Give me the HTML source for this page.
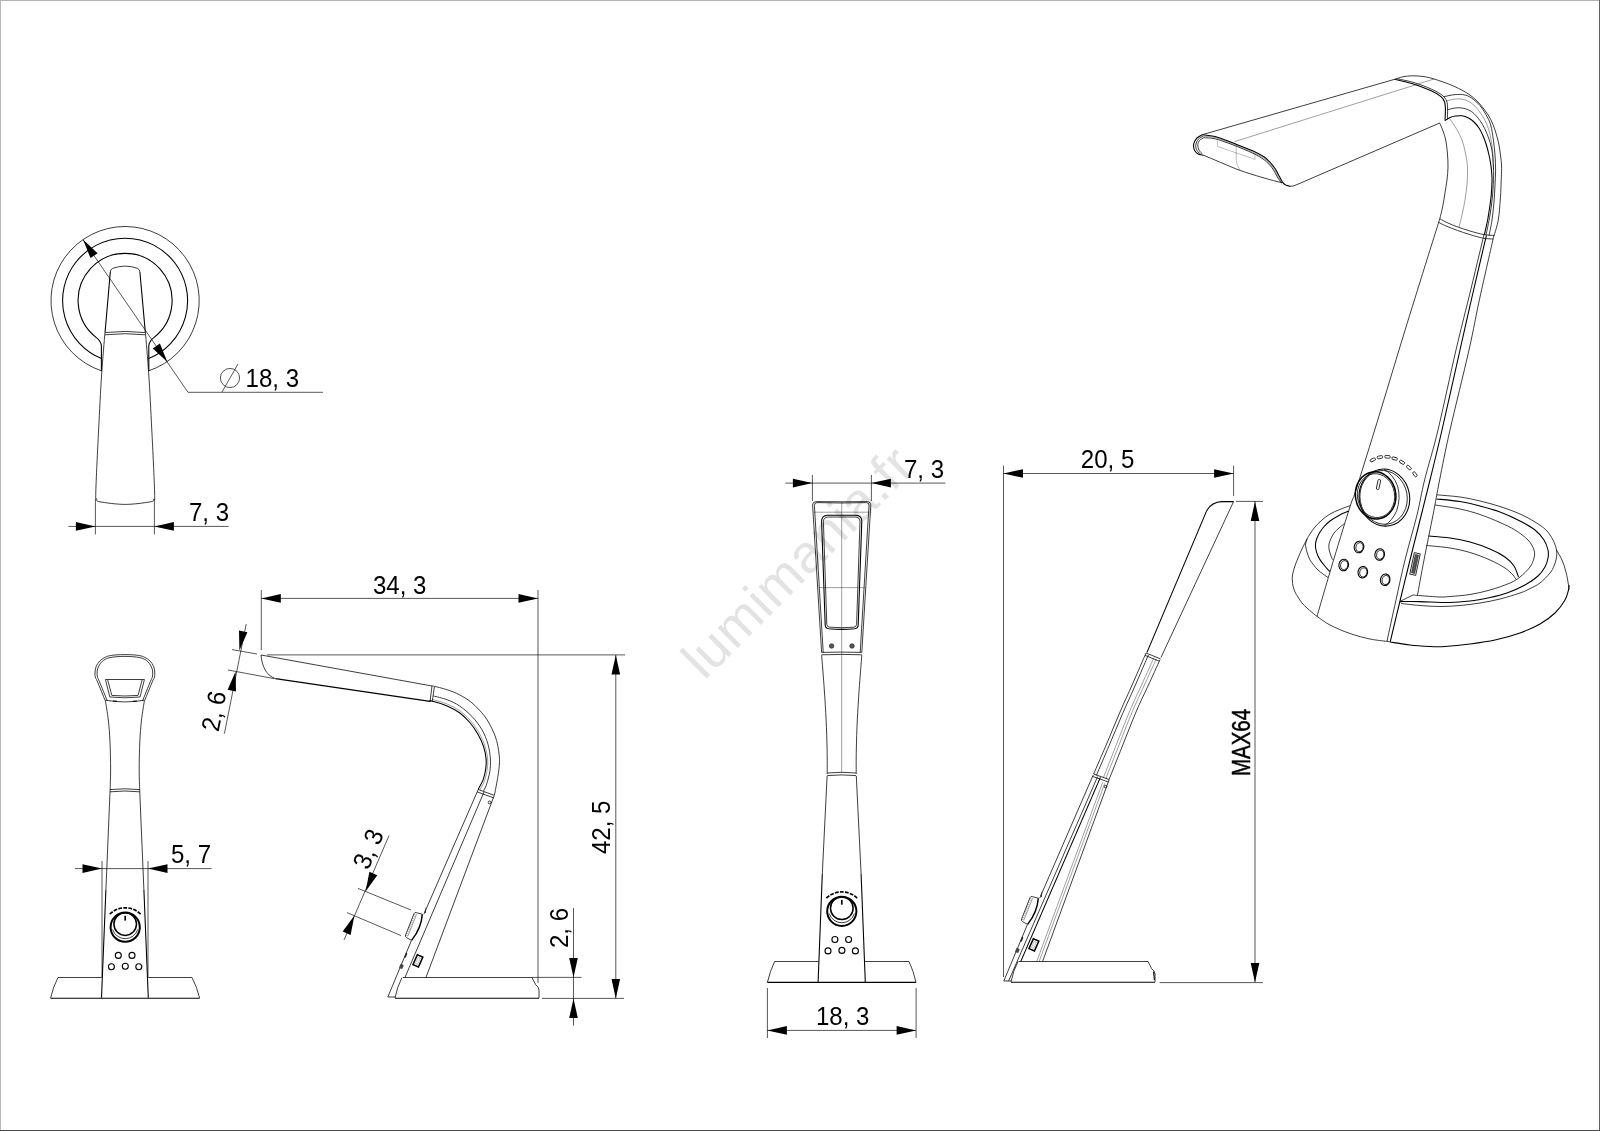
<!DOCTYPE html>
<html lang="fr">
<head>
<meta charset="utf-8">
<title>lumimania.fr</title>
<style>
html,body{margin:0;padding:0;background:#fff;}
body{width:1600px;height:1131px;overflow:hidden;}
svg{display:block;position:absolute;left:0;top:0;will-change:transform;}
.o{fill:none;stroke:#000;stroke-width:0.76;}
.k{fill:none;stroke:#000;stroke-width:1.08;}
.h{fill:none;stroke:#000;stroke-width:0.38;}
.g{fill:none;stroke:#000;stroke-width:0.26;}
.d{fill:none;stroke:#000;stroke-width:0.66;}
.a{fill:#000;stroke:none;}
.f{fill:#555;stroke:#222;stroke-width:0.6;}
text{font-family:"Liberation Sans",sans-serif;font-size:25.6px;fill:#000;}
.wm{font-size:53.5px;fill:#e3e3e3;}
</style>
</head>
<body>
<svg width="1600" height="1131" viewBox="0 0 1600 1131">
<rect x="0" y="0" width="1600" height="1131" fill="#fff"/>
<g id="v0_border">
<text class="wm" transform="translate(704.3 681.1) rotate(-45)" letter-spacing="0.8">lumimania.fr</text>
<rect x="0" y="0" width="1600" height="1" fill="#b4b4b4"/>
<rect x="0" y="0" width="1" height="1131" fill="#b8b8b8"/>
<rect x="1599" y="0" width="1" height="1131" fill="#626262"/>
<rect x="0" y="1130" width="1600" height="1" fill="#4c4c4c"/>
</g>
<g id="v1_top">
<path class="o" d="M101.4,370.8 A74.1,74.1 0 1 1 148.8,370.8"/>
<path class="k" d="M101.6,358.6 A62.5,62.5 0 1 1 148.6,358.6"/>
<path class="k" d="M101.4,371 L101.4,346 Q101,341 96.4,337.6 A47,47 0 1 1 153.8,337.6 Q149.2,341 148.8,346 L148.8,371"/>
<path class="o" d="M110.3,272 Q110.4,269.4 112.6,268.4 Q125,263.8 137.6,268.4 Q139.8,269.4 139.9,272"/>
<line class="k" x1="110.3" y1="272.0" x2="105.1" y2="332.0"/>
<line class="k" x1="139.9" y1="272.0" x2="145.3" y2="332.0"/>
<path class="o" d="M105.0,332.0 C104.4,339.2 102.7,358.7 101.6,375.0 C100.5,391.3 99.6,410.5 98.6,430.0 C97.6,449.5 96.1,480.5 95.8,492.0 C95.5,503.5 95.9,497.4 96.6,499.0 C97.3,500.6 95.2,500.9 100.0,501.8 C104.8,502.7 116.8,504.4 125.2,504.4 C133.6,504.4 145.6,502.7 150.4,501.8 C155.2,500.9 153.1,500.6 153.8,499.0 C154.5,497.4 154.9,503.5 154.6,492.0 C154.3,480.5 152.8,449.5 151.8,430.0 C150.8,410.5 149.9,391.3 148.8,375.0 C147.7,358.7 146.0,339.2 145.4,332.0"/>
<path class="o" d="M105.2,332.6 Q125.2,330.2 145.2,332.6"/>
<path class="o" d="M105,334.8 Q125.2,332.6 145.4,334.8"/>
<path class="d" d="M83,239.6 L188,392.3 L323,392.3"/>
<polygon class="a" points="83.0,239.6 97.6,253.2 90.5,258.1"/>
<polygon class="a" points="167.4,362.0 152.8,348.4 159.9,343.5"/>
<circle class="d" cx="230.0" cy="378.0" r="9.6"/>
<line class="d" x1="222.0" y1="392.0" x2="238.0" y2="364.0"/>
<text transform="translate(245.6 387.2) scale(0.94 1)">18, 3</text>
<line class="d" x1="95.4" y1="499.0" x2="95.4" y2="534.4"/>
<line class="d" x1="154.4" y1="499.0" x2="154.4" y2="534.4"/>
<line class="d" x1="68.4" y1="526.4" x2="228.6" y2="526.4"/>
<polygon class="a" points="95.4,526.4 75.9,530.7 75.9,522.1"/>
<polygon class="a" points="154.4,526.4 173.9,522.1 173.9,530.7"/>
<text transform="translate(189.0 520.6) scale(0.94 1)">7, 3</text>
</g>
<g id="v2_front">
<path class="o" d="M105.2,700.7 C103.9,697.4 98.8,684.9 97.2,681.1 C95.6,677.3 95.9,678.9 95.6,678.0 C95.2,677.1 95.2,676.6 95.1,675.8 C95.0,675.0 95.0,674.0 95.0,673.0 C95.0,672.0 95.1,671.0 95.3,669.9 C95.5,668.8 95.8,667.4 96.2,666.4 C96.6,665.4 97.1,664.5 97.7,663.6 C98.3,662.7 99.0,661.8 99.8,661.0 C100.6,660.2 101.6,659.4 102.5,658.8 C103.4,658.2 104.3,657.7 105.4,657.2 C106.5,656.7 107.1,656.3 108.9,655.9 C110.7,655.5 113.3,655.1 116.0,654.9 C118.7,654.7 121.9,654.6 124.9,654.6 C127.9,654.6 131.1,654.7 133.8,654.9 C136.5,655.1 139.1,655.5 140.9,655.9 C142.7,656.3 143.3,656.7 144.4,657.2 C145.5,657.7 146.4,658.2 147.3,658.8 C148.2,659.4 149.2,660.2 150.0,661.0 C150.8,661.8 151.5,662.7 152.1,663.6 C152.7,664.5 153.2,665.4 153.6,666.4 C154.0,667.4 154.3,668.8 154.5,669.9 C154.7,671.0 154.8,672.0 154.8,673.0 C154.8,674.0 154.8,675.0 154.7,675.8 C154.6,676.6 154.6,677.1 154.2,678.0 C153.9,678.9 154.2,677.3 152.6,681.1 C151.0,684.9 145.9,697.4 144.6,700.7"/>
<path class="o" d="M107.2,700.7 C105.9,697.5 100.9,685.2 99.3,681.3 C97.7,677.3 97.8,678.4 97.4,677.0 C97.0,675.6 97.1,674.3 97.1,673.0 C97.1,671.7 97.2,670.3 97.6,669.0 C98.0,667.7 98.7,666.2 99.4,665.0 C100.1,663.8 101.0,662.6 102.0,661.6 C103.0,660.6 104.1,659.9 105.4,659.2 C106.7,658.5 108.1,658.0 110.0,657.6 C111.9,657.2 114.5,656.9 117.0,656.7 C119.5,656.5 122.3,656.4 124.9,656.4 C127.5,656.4 130.3,656.5 132.8,656.7 C135.3,656.9 137.9,657.2 139.8,657.6 C141.7,658.0 143.1,658.5 144.4,659.2 C145.7,659.9 146.8,660.6 147.8,661.6 C148.8,662.6 149.7,663.8 150.4,665.0 C151.1,666.2 151.8,667.7 152.2,669.0 C152.6,670.3 152.7,671.7 152.7,673.0 C152.7,674.3 152.8,675.6 152.4,677.0 C152.0,678.4 152.1,677.3 150.5,681.3 C148.9,685.2 143.9,697.5 142.6,700.7"/>
<path class="o" d="M105.4,679.5 L144.4,679.5 L140,697 Q124.9,698.6 109.8,697 Z"/>
<path class="o" d="M107.7,680 L111.8,695.4 Q124.9,696.6 138,695.4 L142.1,680"/>
<path class="o" d="M105.4,700.2 Q124.9,703.6 144.4,700.2"/>
<line class="k" x1="113.0" y1="701.0" x2="117.0" y2="701.4"/>
<line class="k" x1="132.8" y1="701.4" x2="136.8" y2="701.0"/>
<path class="o" d="M105.4,700.7 C105.9,703.9 107.5,713.1 108.3,720.0 C109.1,726.9 109.6,733.7 110.0,742.0 C110.4,750.3 110.6,762.0 110.6,770.0 C110.6,778.0 110.2,786.7 110.1,790.0"/>
<line class="o" x1="110.1" y1="790.0" x2="105.9" y2="890.0"/>
<line class="k" x1="105.9" y1="890.0" x2="101.5" y2="997.8"/>
<path class="o" d="M144.4,700.7 C143.9,703.9 142.3,713.1 141.5,720.0 C140.7,726.9 140.2,733.7 139.8,742.0 C139.4,750.3 139.2,762.0 139.2,770.0 C139.2,778.0 139.6,786.7 139.7,790.0"/>
<line class="o" x1="139.7" y1="790.0" x2="143.9" y2="890.0"/>
<line class="k" x1="143.9" y1="890.0" x2="148.3" y2="997.8"/>
<path class="o" d="M110.1,789.6 Q124.9,788 139.7,789.6"/>
<path class="o" d="M110.1,791.8 Q124.9,790.2 139.7,791.8"/>
<path class="o" d="M101.8,977.5 L58,977.5 Q53,987 50.6,998"/>
<path class="o" d="M148.2,977.5 L192,977.5 Q197,987 199.6,998"/>
<path class="k" d="M50.6,998.3 L199.6,998.3"/>
<circle cx="125.2" cy="927.2" r="14.6" fill="none" stroke="#000" stroke-width="2"/>
<path class="o" d="M112.6,929.4 A13.2,13.2 0 0 0 137.8,929.4"/>
<circle cx="125.2" cy="924.1" r="11.3" fill="none" stroke="#000" stroke-width="1.5"/>
<line x1="125.2" y1="915.8" x2="125.2" y2="920.6" stroke="#000" stroke-width="1.7"/>
<path d="M109.80,914.09 A22.0,22.0 0 0 1 112.72,911.68" fill="none" stroke="#000" stroke-width="1.7"/>
<path d="M113.78,910.99 A22.0,22.0 0 0 1 117.18,909.32" fill="none" stroke="#000" stroke-width="1.7"/>
<path d="M118.37,908.89 A22.0,22.0 0 0 1 122.05,908.03" fill="none" stroke="#000" stroke-width="1.7"/>
<path d="M123.31,907.88 A22.0,22.0 0 0 1 127.09,907.88" fill="none" stroke="#000" stroke-width="1.7"/>
<path d="M128.35,908.03 A22.0,22.0 0 0 1 132.03,908.89" fill="none" stroke="#000" stroke-width="1.7"/>
<path d="M133.22,909.32 A22.0,22.0 0 0 1 136.62,910.99" fill="none" stroke="#000" stroke-width="1.7"/>
<path d="M137.68,911.68 A22.0,22.0 0 0 1 140.60,914.09" fill="none" stroke="#000" stroke-width="1.7"/>
<circle cx="118.3" cy="955.4" r="3" fill="none" stroke="#000" stroke-width="1.1"/>
<circle cx="132.0" cy="955.4" r="3" fill="none" stroke="#000" stroke-width="1.1"/>
<circle cx="111.4" cy="966.8" r="3" fill="none" stroke="#000" stroke-width="1.1"/>
<circle cx="125.3" cy="966.3" r="3" fill="none" stroke="#000" stroke-width="1.1"/>
<circle cx="138.8" cy="966.8" r="3" fill="none" stroke="#000" stroke-width="1.1"/>
<line class="d" x1="102.0" y1="861.0" x2="102.0" y2="977.0"/>
<line class="d" x1="148.0" y1="861.0" x2="148.0" y2="977.0"/>
<line class="d" x1="75.0" y1="868.6" x2="211.6" y2="868.6"/>
<polygon class="a" points="102.0,868.6 82.5,872.9 82.5,864.3"/>
<polygon class="a" points="148.0,868.6 167.5,864.3 167.5,872.9"/>
<text transform="translate(171.0 863.0) scale(0.94 1)">5, 7</text>
<line class="d" x1="246.2" y1="624.0" x2="224.4" y2="733.6"/>
<line class="d" x1="232.0" y1="649.6" x2="257.0" y2="654.0"/>
<line class="d" x1="228.0" y1="670.0" x2="274.0" y2="678.6"/>
<polygon class="a" points="239.4,650.6 239.0,630.6 247.4,632.3"/>
<polygon class="a" points="235.6,671.4 236.0,691.4 227.6,689.7"/>
<text transform="translate(218.6 732.4) rotate(-78.8) scale(0.94 1)">2, 6</text>
</g>
<g id="v3_side">
<path class="o" d="M261,655 L432,686"/>
<path class="o" d="M261,655 C262,666 266,675.4 275.4,678.6"/>
<path class="k" d="M275.4,678.6 L430,701.4"/>
<line class="o" x1="432.0" y1="686.0" x2="430.0" y2="701.4"/>
<line class="o" x1="434.4" y1="686.8" x2="432.2" y2="702.0"/>
<path class="o" d="M432.0,686.0 C432.2,686.0 431.0,685.5 433.5,686.1 C436.0,686.7 442.8,688.3 447.1,689.8 C451.4,691.2 455.4,692.6 459.5,694.8 C463.6,697.0 467.8,699.3 471.9,702.8 C476.0,706.3 481.0,711.6 484.3,715.8 C487.6,720.0 489.6,724.1 491.7,728.2 C493.8,732.3 495.4,736.2 496.6,740.5 C497.8,744.8 498.6,750.3 499.1,754.2 C499.6,758.1 499.6,760.3 499.4,764.0 C499.2,767.7 498.7,771.2 497.9,776.4 C497.1,781.6 495.0,792.2 494.4,795.4"/>
<path class="k" d="M430.0,701.4 C430.3,701.3 428.8,700.1 431.7,700.9 C434.6,701.6 442.5,703.9 447.1,705.9 C451.7,707.9 455.8,710.0 459.5,712.7 C463.2,715.4 466.3,718.4 469.4,722.0 C472.5,725.6 475.7,730.3 478.1,734.4 C480.5,738.5 482.3,742.6 483.6,746.7 C484.9,750.8 485.8,755.4 486.1,759.1 C486.5,762.8 486.2,765.5 485.7,769.0 C485.2,772.5 484.3,776.7 483.0,780.1 C481.7,783.5 478.9,787.9 478.1,789.4"/>
<path class="o" d="M433.5,696.0 C435.8,696.6 442.8,698.1 447.1,699.7 C451.4,701.4 455.4,703.1 459.5,705.9 C463.6,708.7 468.2,712.5 471.9,716.4 C475.6,720.3 479.1,724.8 481.8,729.4 C484.5,734.0 486.6,739.3 488.0,744.3 C489.4,749.2 490.1,754.6 490.4,759.1 C490.7,763.6 490.4,767.4 489.8,771.5 C489.2,775.6 487.7,780.7 486.7,783.9 C485.7,787.1 484.1,789.7 483.6,790.9"/>
<path class="h" d="M432.4,699.4 C434.9,700.2 442.9,702.2 447.6,704.2 C452.3,706.2 456.6,708.4 460.4,711.2 C464.2,714.0 467.4,717.1 470.6,720.8 C473.8,724.5 477.0,729.2 479.4,733.4 C481.8,737.6 483.6,741.9 485.0,746.2 C486.4,750.5 487.2,755.2 487.6,759.0 C488.0,762.8 487.7,765.6 487.2,769.2 C486.7,772.8 485.8,777.1 484.6,780.6 C483.4,784.1 480.6,788.4 479.8,790.0"/>
<line class="o" x1="478.0" y1="789.4" x2="494.4" y2="795.4"/>
<line class="o" x1="477.0" y1="791.8" x2="493.4" y2="797.8"/>
<circle class="o" cx="489.6" cy="802.4" r="1.4"/>
<line class="o" x1="478.0" y1="790.0" x2="423.9" y2="914.2"/>
<line class="o" x1="411.4" y1="940.6" x2="387.8" y2="997.0"/>
<line class="o" x1="387.8" y1="997.0" x2="395.0" y2="997.0"/>
<line class="o" x1="484.0" y1="792.0" x2="405.0" y2="977.4"/>
<line class="o" x1="494.0" y1="796.0" x2="426.0" y2="977.4"/>
<path class="o" d="M405.6,935.0 Q404.8,936.6 406.4,937.6 L411.6,940.4"/>
<path class="o" d="M405.6,935.0 L414.0,913.6 Q414.6,912.2 416.2,912.6 L422.3,914.2"/>
<path d="M422.3,914.2 Q421.4,928.0 411.6,940.4" fill="none" stroke="#000" stroke-width="1.5"/>
<path d="M406.6,935.6 L415.4,913.6" fill="none" stroke="#000" stroke-width="1.6" stroke-dasharray="0.6 1.4" opacity="0.5"/>
<path class="h" d="M407.8,936.4 L416.6,914.2"/>
<path d="M426.2,906.6 L424.2,912.6 L426.0,913.0 Z" fill="#333"/>
<path d="M406.6,953.0 L405.0,957.6" stroke="#222" stroke-width="1.6" fill="none"/>
<rect x="-1.7" y="-2.3" width="3.4" height="4.6" rx="0.8" fill="#444" transform="translate(401.4 966.4) rotate(23)"/>
<rect x="-3" y="-5.4" width="6" height="10.8" fill="#fff" stroke="#000" stroke-width="1.5" transform="translate(417.9 960.9) rotate(24)"/>
<rect x="-1.2" y="-3.4" width="2.4" height="6.8" fill="#f2f2f2" stroke="#999" stroke-width="0.5" transform="translate(417.9 960.9) rotate(24)"/>
<line class="o" x1="403.0" y1="977.5" x2="532.0" y2="977.5"/>
<path class="o" d="M402,977.5 Q397,987 395,998"/>
<path class="k" d="M395,998.3 L539,998.3"/>
<path class="o" d="M532,977.5 L535.6,984.6 Q538.8,987 539,990 L539,998"/>
<line class="d" x1="261.3" y1="590.0" x2="261.3" y2="650.0"/>
<line class="d" x1="538.0" y1="590.0" x2="538.0" y2="983.0"/>
<line class="d" x1="261.3" y1="598.4" x2="538.0" y2="598.4"/>
<polygon class="a" points="261.3,598.4 280.8,594.1 280.8,602.7"/>
<polygon class="a" points="538.0,598.4 518.5,602.7 518.5,594.1"/>
<text transform="translate(373.0 593.5) scale(0.94 1)">34, 3</text>
<line class="d" x1="267.0" y1="654.9" x2="625.0" y2="654.9"/>
<line class="d" x1="615.8" y1="655.0" x2="615.8" y2="998.0"/>
<polygon class="a" points="615.8,654.9 620.1,674.4 611.5,674.4"/>
<polygon class="a" points="615.8,998.4 611.5,978.9 620.1,978.9"/>
<text transform="translate(610.0 854.0) rotate(-90.0) scale(0.94 1)">42, 5</text>
<line class="d" x1="532.0" y1="977.4" x2="581.6" y2="977.4"/>
<line class="d" x1="542.0" y1="998.4" x2="624.0" y2="998.4"/>
<line class="d" x1="573.5" y1="908.0" x2="573.5" y2="1025.6"/>
<polygon class="a" points="573.5,977.4 569.2,957.9 577.8,957.9"/>
<polygon class="a" points="573.5,998.4 577.8,1017.9 569.2,1017.9"/>
<text transform="translate(568.0 948.0) rotate(-90.0) scale(0.94 1)">2, 6</text>
<line class="d" x1="358.0" y1="888.4" x2="411.0" y2="910.0"/>
<line class="d" x1="347.0" y1="912.6" x2="401.0" y2="935.6"/>
<line class="d" x1="389.0" y1="835.6" x2="344.0" y2="940.0"/>
<polygon class="a" points="365.6,891.4 369.4,871.8 377.3,875.2"/>
<polygon class="a" points="354.4,915.4 350.6,935.0 342.7,931.6"/>
<text transform="translate(368.3 870.7) rotate(-66.7) scale(0.94 1)">3, 3</text>
</g>
<g id="v4_front2">
<path class="o" d="M812.6,505 Q812.6,501.8 816,501.6 Q841.7,502 867.4,501.6 Q870.8,501.8 870.8,505 L861.8,652.4 M821.6,652.4 L812.6,505"/>
<path class="o" d="M814.4,505.4 Q814.4,502.8 817,502.6 Q841.7,503.4 866.4,502.6 Q869,502.8 869,505.4 L860.2,652.4 M823.2,652.4 L814.4,505.4"/>
<line class="h" x1="841.7" y1="501.5" x2="841.7" y2="773.0"/>
<line class="h" x1="814.0" y1="512.2" x2="869.4" y2="512.2"/>
<line class="h" x1="818.6" y1="587.6" x2="864.8" y2="587.6"/>
<path class="k" d="M821.6,521 Q821.8,515.4 827.4,515.2 L856,515.2 Q861.6,515.4 861.8,521 L858.2,625 Q858,628.4 854.6,628.8 Q841.7,630 828.8,628.8 Q825.4,628.4 825.2,625 Z"/>
<path class="o" d="M823.4,521.6 Q823.6,517.2 828,517 L855.4,517 Q859.8,517.2 860,521.6 L856.6,624.4 Q856.4,626.8 854,627.2 Q841.7,628.2 829.4,627.2 Q827,626.8 826.8,624.4 Z"/>
<circle class="f" cx="831.6" cy="646.0" r="2.3"/>
<circle class="f" cx="852.0" cy="646.0" r="2.3"/>
<path class="o" d="M821.6,652.4 Q841.7,651.8 861.8,652.4"/>
<path class="o" d="M821.6,654.8 Q841.7,654 861.8,654.8"/>
<path class="o" d="M821.6,655.2 C822.1,661.0 823.6,679.2 824.3,690.0 C825.1,700.8 825.6,710.0 826.1,720.0 C826.6,730.0 826.9,741.0 827.1,750.0 C827.3,759.0 827.2,770.0 827.2,774.0"/>
<path class="o" d="M861.8,655.2 C861.4,661.0 859.9,679.2 859.1,690.0 C858.4,700.8 857.8,710.0 857.3,720.0 C856.8,730.0 856.5,741.0 856.3,750.0 C856.1,759.0 856.2,770.0 856.2,774.0"/>
<line class="o" x1="827.1" y1="776.0" x2="822.3" y2="874.0"/>
<line class="k" x1="822.3" y1="874.0" x2="818.1" y2="982.0"/>
<line class="o" x1="856.3" y1="776.0" x2="861.1" y2="874.0"/>
<line class="k" x1="861.1" y1="874.0" x2="865.3" y2="982.0"/>
<path class="o" d="M827.2,773 Q841.7,771.6 856.2,773"/>
<path class="o" d="M827.2,775.6 Q841.7,774.2 856.2,775.6"/>
<path class="o" d="M818.6,961.5 L774.6,961.5 Q770,971 767.4,982.4"/>
<path class="o" d="M865,961.5 L909,961.5 Q913.6,971 916,982.4"/>
<path class="k" d="M767.4,982.4 L916,982.4"/>
<circle cx="841.8" cy="911.3" r="14.6" fill="none" stroke="#000" stroke-width="2"/>
<path class="o" d="M829.2,913.5 A13.2,13.2 0 0 0 854.4,913.5"/>
<circle cx="841.8" cy="908.2" r="11.3" fill="none" stroke="#000" stroke-width="1.5"/>
<line x1="841.8" y1="899.9" x2="841.8" y2="904.7" stroke="#000" stroke-width="1.7"/>
<path d="M826.40,898.19 A22.0,22.0 0 0 1 829.32,895.78" fill="none" stroke="#000" stroke-width="1.7"/>
<path d="M830.38,895.09 A22.0,22.0 0 0 1 833.78,893.42" fill="none" stroke="#000" stroke-width="1.7"/>
<path d="M834.97,892.99 A22.0,22.0 0 0 1 838.65,892.13" fill="none" stroke="#000" stroke-width="1.7"/>
<path d="M839.91,891.98 A22.0,22.0 0 0 1 843.69,891.98" fill="none" stroke="#000" stroke-width="1.7"/>
<path d="M844.95,892.13 A22.0,22.0 0 0 1 848.63,892.99" fill="none" stroke="#000" stroke-width="1.7"/>
<path d="M849.82,893.42 A22.0,22.0 0 0 1 853.22,895.09" fill="none" stroke="#000" stroke-width="1.7"/>
<path d="M854.28,895.78 A22.0,22.0 0 0 1 857.20,898.19" fill="none" stroke="#000" stroke-width="1.7"/>
<circle cx="834.9" cy="939.5" r="3" fill="none" stroke="#000" stroke-width="1.1"/>
<circle cx="848.6" cy="939.5" r="3" fill="none" stroke="#000" stroke-width="1.1"/>
<circle cx="828.0" cy="950.9" r="3" fill="none" stroke="#000" stroke-width="1.1"/>
<circle cx="841.9" cy="950.4" r="3" fill="none" stroke="#000" stroke-width="1.1"/>
<circle cx="855.4" cy="950.9" r="3" fill="none" stroke="#000" stroke-width="1.1"/>
<line class="d" x1="812.4" y1="475.0" x2="812.4" y2="501.0"/>
<line class="d" x1="871.4" y1="475.0" x2="871.4" y2="501.0"/>
<line class="d" x1="785.4" y1="483.1" x2="945.4" y2="483.1"/>
<polygon class="a" points="812.4,483.1 792.9,487.4 792.9,478.8"/>
<polygon class="a" points="871.4,483.1 890.9,478.8 890.9,487.4"/>
<text transform="translate(904.0 477.6) scale(0.94 1)">7, 3</text>
<line class="d" x1="767.4" y1="988.0" x2="767.4" y2="1038.0"/>
<line class="d" x1="916.1" y1="988.0" x2="916.1" y2="1038.0"/>
<line class="d" x1="767.4" y1="1030.4" x2="916.0" y2="1030.4"/>
<polygon class="a" points="767.4,1030.4 786.9,1026.1 786.9,1034.7"/>
<polygon class="a" points="916.1,1030.4 896.6,1034.7 896.6,1026.1"/>
<text transform="translate(816.0 1025.0) scale(0.94 1)">18, 3</text>
</g>
<g id="v5_side2">
<path class="k" d="M1233.6,501.6 L1222,501.6 Q1211,502 1206.4,511.4"/>
<path class="k" d="M1206.4,511.4 L1147,652.4"/>
<line class="o" x1="1233.6" y1="501.5" x2="1161.0" y2="657.4"/>
<line class="o" x1="1146.0" y1="653.0" x2="1160.4" y2="658.8"/>
<line class="o" x1="1145.0" y1="655.4" x2="1159.4" y2="661.2"/>
<path class="o" d="M1146.0,653.0 C1143.8,658.0 1137.3,673.2 1133.0,683.0 C1128.7,692.8 1124.4,701.8 1120.0,712.0 C1115.6,722.2 1111.0,733.7 1106.6,744.0 C1102.2,754.3 1095.8,769.0 1093.6,774.0"/>
<path class="o" d="M1148.4,655.0 C1146.2,660.0 1139.7,675.2 1135.4,685.0 C1131.1,694.8 1127.0,703.5 1122.6,713.6 C1118.2,723.7 1113.6,735.1 1109.2,745.4 C1104.8,755.7 1098.5,770.4 1096.4,775.4"/>
<path class="o" d="M1160.0,659.6 C1158.0,664.0 1152.0,677.3 1148.0,686.0 C1144.0,694.7 1140.3,701.8 1136.0,712.0 C1131.7,722.2 1126.5,735.7 1122.0,747.0 C1117.5,758.3 1111.2,774.2 1109.0,779.6"/>
<path class="h" d="M1154.0,657.6 C1152.0,662.0 1146.0,675.2 1142.0,684.0 C1138.0,692.8 1134.3,700.3 1130.0,710.4 C1125.7,720.5 1120.8,733.4 1116.4,744.6 C1112.0,755.8 1105.6,772.1 1103.4,777.6"/>
<path class="h" d="M1156.4,658.6 C1154.4,663.0 1148.4,676.2 1144.4,685.0 C1140.4,693.8 1136.7,701.3 1132.4,711.4 C1128.1,721.5 1123.2,734.4 1118.8,745.6 C1114.4,756.8 1108.0,773.1 1105.8,778.6"/>
<line class="o" x1="1093.6" y1="774.0" x2="1109.4" y2="779.6"/>
<line class="o" x1="1092.6" y1="776.4" x2="1108.4" y2="782.0"/>
<circle class="o" cx="1105.6" cy="786.6" r="1.3"/>
<line class="o" x1="1093.2" y1="775.0" x2="1039.7" y2="898.2"/>
<line class="o" x1="1027.4" y1="924.6" x2="1003.8" y2="981.0"/>
<line class="o" x1="1097.6" y1="776.6" x2="1008.6" y2="981.0"/>
<path class="k" d="M1100.4,777.4 L1020.8,961.4"/>
<line class="o" x1="1109.0" y1="780.0" x2="1042.6" y2="961.4"/>
<line class="h" x1="1102.6" y1="782.4" x2="1036.8" y2="961.4"/>
<line class="h" x1="1104.8" y1="783.2" x2="1039.2" y2="961.4"/>
<line class="o" x1="1003.8" y1="981.0" x2="1011.0" y2="981.0"/>
<path class="o" d="M1021.6,919.0 Q1020.8,920.6 1022.4,921.6 L1027.6,924.4"/>
<path class="o" d="M1021.6,919.0 L1030.0,897.6 Q1030.6,896.2 1032.2,896.6 L1038.3,898.2"/>
<path d="M1038.3,898.2 Q1037.4,912.0 1027.6,924.4" fill="none" stroke="#000" stroke-width="1.5"/>
<path d="M1022.6,919.6 L1031.4,897.6" fill="none" stroke="#000" stroke-width="1.6" stroke-dasharray="0.6 1.4" opacity="0.5"/>
<path class="h" d="M1023.8,920.4 L1032.6,898.2"/>
<path d="M1042.2,890.6 L1040.2,896.6 L1042.0,897.0 Z" fill="#333"/>
<path d="M1022.6,937.0 L1021.0,941.6" stroke="#222" stroke-width="1.6" fill="none"/>
<rect x="-1.7" y="-2.3" width="3.4" height="4.6" rx="0.8" fill="#444" transform="translate(1017.4 950.4) rotate(23)"/>
<rect x="-3" y="-5.4" width="6" height="10.8" fill="#fff" stroke="#000" stroke-width="1.5" transform="translate(1033.9 944.9) rotate(24)"/>
<rect x="-1.2" y="-3.4" width="2.4" height="6.8" fill="#f2f2f2" stroke="#999" stroke-width="0.5" transform="translate(1033.9 944.9) rotate(24)"/>
<line class="o" x1="1018.6" y1="961.5" x2="1148.0" y2="961.5"/>
<path class="o" d="M1018,961.5 Q1013,971 1011,982"/>
<path class="k" d="M1011,982.3 L1155,982.3"/>
<path class="o" d="M1148,961.5 L1151.6,968.6 Q1154.8,971 1155,974 L1155,982"/>
<path class="k" d="M1153.6,971.6 L1154.4,980"/>
<line class="d" x1="1003.5" y1="465.6" x2="1003.5" y2="977.0"/>
<line class="d" x1="1233.6" y1="465.6" x2="1233.6" y2="496.0"/>
<line class="d" x1="1003.6" y1="473.5" x2="1233.6" y2="473.5"/>
<polygon class="a" points="1003.5,473.5 1023.0,469.2 1023.0,477.8"/>
<polygon class="a" points="1233.6,473.5 1214.1,477.8 1214.1,469.2"/>
<text transform="translate(1080.8 467.8) scale(0.94 1)">20, 5</text>
<line class="d" x1="1236.0" y1="501.4" x2="1263.0" y2="501.4"/>
<line class="d" x1="1159.6" y1="982.6" x2="1263.0" y2="982.6"/>
<line class="d" x1="1255.0" y1="501.0" x2="1255.0" y2="982.0"/>
<polygon class="a" points="1255.0,501.4 1259.3,520.9 1250.7,520.9"/>
<polygon class="a" points="1255.0,982.6 1250.7,963.1 1259.3,963.1"/>
<text transform="translate(1250.0 776.0) rotate(-90.0) scale(0.80 1)" stroke="#000" stroke-width="0.5">MAX64</text>
</g>
<g id="v6_persp">
<line class="o" x1="1202.3" y1="134.7" x2="1394.6" y2="79.3"/>
<path class="k" d="M1202.3,134.7 C1201.4,135.2 1198.3,136.8 1197.0,138.0 C1195.7,139.2 1195.0,140.9 1194.4,142.0 C1193.8,143.1 1193.7,143.8 1193.6,144.8 C1193.5,145.8 1193.6,147.0 1193.8,148.0 C1194.0,149.0 1194.3,150.0 1194.8,150.8 C1195.3,151.6 1196.0,152.4 1196.8,153.0 C1197.5,153.6 1198.1,154.2 1199.3,154.6 C1200.5,155.0 1203.0,155.2 1203.8,155.3"/>
<path class="o" d="M1203.0,136.2 C1202.2,136.7 1199.6,137.8 1198.4,139.2 C1197.2,140.6 1196.1,142.9 1195.8,144.8 C1195.5,146.7 1196.0,148.8 1196.8,150.4 C1197.6,152.0 1200.1,153.6 1200.8,154.2"/>
<path class="o" d="M1203.8,137.7 C1203.1,138.1 1200.7,139.1 1199.7,140.3 C1198.7,141.5 1197.9,143.2 1197.8,144.8 C1197.7,146.4 1198.2,148.6 1198.9,150.1 C1199.7,151.6 1201.7,153.2 1202.3,153.8"/>
<path class="k" d="M1202.3,134.7 C1204.4,135.0 1209.8,135.1 1215.1,136.5 C1220.3,137.9 1227.5,140.9 1233.8,143.3 C1240.0,145.7 1247.6,148.6 1252.6,150.8 C1257.6,153.1 1261.0,154.9 1263.9,156.8 C1266.8,158.7 1268.0,160.1 1269.9,162.1 C1271.8,164.1 1273.7,166.6 1275.2,168.8 C1276.7,171.1 1277.7,173.3 1278.9,175.6 C1280.2,177.9 1281.6,180.8 1282.7,182.4 C1283.8,184.0 1284.5,184.3 1285.7,185.0 C1287.0,185.7 1289.5,186.1 1290.2,186.3"/>
<path class="o" d="M1203.8,137.7 C1205.7,137.9 1210.1,137.6 1215.1,138.8 C1220.1,140.1 1227.5,142.8 1233.8,145.2 C1240.0,147.6 1247.7,150.8 1252.6,153.1 C1257.5,155.4 1260.3,157.2 1263.1,159.1 C1265.8,161.0 1267.3,162.4 1269.1,164.3 C1270.9,166.2 1272.3,168.2 1273.7,170.3 C1275.1,172.4 1276.1,175.0 1277.4,177.1 C1278.7,179.2 1280.8,182.1 1281.5,183.1"/>
<path class="h" d="M1203.0,136.2 C1205.0,136.4 1210.0,136.3 1215.1,137.6 C1220.2,138.9 1227.5,141.8 1233.8,144.2 C1240.0,146.6 1247.6,149.7 1252.6,152.0 C1257.5,154.3 1260.7,156.1 1263.5,158.0 C1266.3,159.9 1267.7,161.3 1269.5,163.2 C1271.3,165.1 1273.0,167.4 1274.4,169.6 C1275.9,171.8 1276.9,174.2 1278.2,176.4 C1279.5,178.6 1281.4,181.7 1282.0,182.8"/>
<path class="o" d="M1203.8,155.3 C1206.8,156.6 1216.0,160.5 1222.0,163.0 C1228.0,165.5 1233.3,168.0 1240.0,170.4 C1246.7,172.8 1255.0,175.3 1262.0,177.4 C1269.0,179.5 1278.7,181.9 1282.0,182.8"/>
<path class="o" d="M1290.2,186.3 Q1293,186.4 1296,185 L1439.7,123"/>
<line class="h" x1="1234.6" y1="141.6" x2="1434.0" y2="79.0"/>
<path class="g" d="M1217.4,140.6 L1217.4,146.4 L1255,159.4 L1255,153.6"/>
<path class="g" d="M1236.2,145.6 L1236.2,160 Q1236.6,166.4 1240,170"/>
<path class="k" d="M1394.6,79.3 C1397.6,80.0 1406.6,81.9 1412.6,83.8 C1418.6,85.7 1425.9,88.5 1430.6,90.6 C1435.3,92.7 1438.7,94.7 1441.0,96.6 C1443.3,98.5 1443.9,100.1 1444.6,102.0 C1445.3,103.9 1445.3,104.9 1445.4,108.0 C1445.5,111.1 1445.1,118.5 1445.0,120.6"/>
<path class="o" d="M1397.6,78.8 C1400.3,79.4 1408.3,80.9 1414.0,82.6 C1419.7,84.3 1426.9,87.1 1431.6,89.2 C1436.3,91.3 1439.9,93.4 1442.4,95.4 C1444.9,97.4 1445.7,98.9 1446.6,101.0 C1447.5,103.1 1447.5,104.9 1447.6,108.0 C1447.7,111.1 1447.4,117.5 1447.4,119.4"/>
<path class="o" d="M1394.6,79.3 C1396.0,78.9 1400.0,77.4 1403.0,76.8 C1406.0,76.2 1409.1,75.8 1412.6,75.8 C1416.1,75.8 1420.3,76.0 1424.0,76.6 C1427.7,77.2 1430.5,77.9 1435.0,79.3 C1439.5,80.7 1446.0,82.9 1451.0,85.0 C1456.0,87.1 1461.0,89.5 1465.2,92.0 C1469.4,94.5 1472.8,97.0 1476.0,100.0 C1479.2,103.0 1482.2,106.7 1484.7,110.0 C1487.2,113.3 1489.2,116.5 1491.0,120.0 C1492.8,123.5 1494.0,127.2 1495.3,131.0 C1496.6,134.8 1497.7,139.0 1498.6,143.0 C1499.5,147.0 1500.0,151.4 1500.5,155.2 C1501.0,159.0 1501.5,162.2 1501.6,166.0 C1501.7,169.8 1501.5,172.4 1501.3,177.7 C1501.1,183.0 1500.9,191.0 1500.4,198.0 C1499.9,205.0 1499.4,213.5 1498.3,219.8 C1497.2,226.1 1494.7,233.3 1494.0,236.0"/>
<path class="o" d="M1444.0,96.6 C1445.8,96.3 1451.5,94.9 1455.0,94.6 C1458.5,94.3 1462.0,94.3 1465.0,95.0 C1468.0,95.7 1470.5,97.2 1473.0,99.0 C1475.5,100.8 1477.8,103.0 1480.0,105.6 C1482.2,108.2 1484.2,111.4 1486.0,114.6 C1487.8,117.8 1489.5,120.8 1490.7,125.0 C1491.9,129.2 1492.7,135.0 1493.4,140.0 C1494.1,145.0 1494.6,150.0 1495.0,155.0 C1495.4,160.0 1495.6,165.0 1495.6,170.0 C1495.6,175.0 1495.3,179.7 1495.0,185.0 C1494.7,190.3 1494.5,196.2 1494.0,202.0 C1493.5,207.8 1492.8,214.3 1492.0,220.0 C1491.2,225.7 1489.5,233.3 1489.0,236.0"/>
<path class="h" d="M1446.0,101.0 C1447.7,100.7 1453.0,99.2 1456.0,99.0 C1459.0,98.8 1461.3,98.8 1464.0,99.6 C1466.7,100.4 1469.7,101.9 1472.0,103.6 C1474.3,105.3 1476.0,107.1 1478.0,109.6 C1480.0,112.1 1482.2,115.4 1484.0,118.6 C1485.8,121.8 1487.4,125.1 1488.6,129.0 C1489.8,132.9 1490.7,137.7 1491.4,142.0 C1492.1,146.3 1492.7,150.3 1493.0,155.0 C1493.3,159.7 1493.3,167.5 1493.4,170.0"/>
<path class="o" d="M1447.0,110.0 C1448.3,109.7 1452.5,108.3 1455.0,108.0 C1457.5,107.7 1459.7,107.7 1462.0,108.0 C1464.3,108.3 1466.6,109.1 1468.6,110.0 C1470.6,110.9 1472.1,111.8 1474.0,113.6 C1475.9,115.4 1478.2,118.1 1480.0,120.6 C1481.8,123.1 1483.3,125.7 1484.7,128.6 C1486.1,131.5 1487.5,134.8 1488.6,138.0 C1489.7,141.2 1490.8,144.3 1491.5,148.0 C1492.2,151.7 1492.7,155.5 1493.0,160.0 C1493.3,164.5 1493.7,169.2 1493.6,175.0 C1493.5,180.8 1493.2,188.3 1492.6,195.0 C1492.0,201.7 1491.1,208.3 1490.0,215.0 C1488.9,221.7 1486.7,231.7 1486.0,235.0"/>
<path class="k" d="M1445.0,120.6 C1445.8,120.1 1448.2,118.2 1450.0,117.4 C1451.8,116.6 1454.0,116.3 1456.0,116.0 C1458.0,115.7 1459.9,115.5 1462.0,115.8 C1464.1,116.1 1466.6,117.0 1468.6,118.0 C1470.6,119.0 1472.3,120.3 1474.0,122.0 C1475.7,123.7 1477.5,125.7 1479.0,128.0 C1480.5,130.3 1481.8,132.9 1483.0,135.7 C1484.2,138.5 1485.4,141.8 1486.4,145.0 C1487.4,148.2 1488.2,151.5 1489.0,155.0 C1489.8,158.5 1490.5,162.2 1491.0,166.0 C1491.5,169.8 1491.9,173.7 1492.0,177.7 C1492.1,181.7 1491.8,186.3 1491.6,190.0 C1491.4,193.7 1491.3,195.3 1490.7,200.0 C1490.1,204.7 1489.0,212.2 1488.0,218.0 C1487.0,223.8 1485.0,231.8 1484.4,234.6"/>
<path class="o" d="M1439.7,123.0 C1440.2,124.3 1442.0,128.2 1443.0,131.0 C1444.0,133.8 1445.0,136.3 1445.7,140.0 C1446.4,143.7 1447.0,148.5 1447.4,153.0 C1447.8,157.5 1448.1,162.5 1448.0,167.0 C1447.9,171.5 1447.5,175.7 1447.0,180.0 C1446.5,184.3 1445.7,188.3 1445.0,192.8 C1444.3,197.3 1443.5,202.7 1442.6,207.0 C1441.7,211.3 1440.3,216.8 1439.8,218.8"/>
<path class="h" d="M1450.0,119.0 C1451.1,120.7 1454.6,125.5 1456.6,129.0 C1458.6,132.5 1460.5,136.0 1462.0,140.0 C1463.5,144.0 1464.5,148.5 1465.4,153.0 C1466.3,157.5 1467.2,161.8 1467.5,167.0 C1467.8,172.2 1467.4,178.5 1467.0,184.0 C1466.6,189.5 1465.8,194.8 1465.0,200.0 C1464.2,205.2 1463.0,210.5 1462.0,215.0 C1461.0,219.5 1459.5,225.0 1459.0,227.0"/>
<path class="o" d="M1439.8,218.8 C1441.2,219.5 1445.0,221.6 1448.0,223.0 C1451.0,224.4 1454.1,225.7 1457.8,227.0 C1461.5,228.3 1465.6,229.7 1470.0,231.0 C1474.4,232.3 1480.0,233.9 1484.0,234.6 C1488.0,235.3 1492.2,235.3 1493.9,235.4"/>
<path class="o" d="M1438.6,222.4 C1440.0,223.1 1443.9,225.1 1447.0,226.4 C1450.1,227.7 1453.6,229.0 1457.4,230.4 C1461.2,231.8 1465.7,233.3 1470.0,234.6 C1474.3,235.9 1479.5,237.5 1483.3,238.2 C1487.1,238.9 1491.4,238.9 1493.0,239.0"/>
<path class="o" d="M1439.8,218.8 C1436.5,229.3 1426.8,260.1 1420.0,282.0 C1413.2,303.9 1406.5,325.3 1399.0,350.0 C1391.5,374.7 1381.9,406.7 1374.7,430.0 C1367.5,453.3 1360.0,477.4 1356.0,490.0 C1352.0,502.6 1354.1,494.1 1350.4,505.5 C1346.7,516.9 1339.6,540.1 1334.0,558.6 C1328.4,577.1 1319.8,606.8 1317.0,616.4"/>
<path class="o" d="M1493.9,235.4 C1491.6,245.7 1484.2,277.9 1480.0,297.0 C1475.8,316.1 1474.0,327.8 1469.0,350.0 C1464.0,372.2 1454.9,408.3 1450.0,430.0 C1445.1,451.7 1442.4,465.8 1439.6,480.0 C1436.8,494.2 1435.6,501.7 1433.0,515.0 C1430.4,528.3 1426.6,546.6 1424.0,560.0 C1421.4,573.4 1418.5,589.7 1417.4,595.6"/>
<path class="k" d="M1486.4,235.3 C1484.0,245.6 1476.4,277.9 1472.0,297.0 C1467.6,316.1 1465.0,327.8 1460.0,350.0 C1455.0,372.2 1447.0,408.3 1442.0,430.0 C1437.0,451.7 1433.5,465.8 1430.0,480.0 C1426.5,494.2 1424.6,501.7 1421.3,515.0 C1418.0,528.3 1413.5,545.7 1410.0,560.0 C1406.5,574.3 1403.3,587.4 1400.0,601.0 C1396.7,614.6 1391.8,635.0 1390.2,641.8"/>
<path class="o" d="M1484.0,234.6 C1481.5,245.0 1473.7,277.8 1469.0,297.0 C1464.3,316.2 1461.2,327.8 1456.0,350.0 C1450.8,372.2 1443.2,408.3 1438.0,430.0 C1432.8,451.7 1428.1,465.8 1424.6,480.0 C1421.1,494.2 1420.3,501.7 1417.0,515.0 C1413.7,528.3 1408.5,545.8 1405.0,560.0 C1401.5,574.2 1399.0,586.5 1396.0,600.0 C1393.0,613.5 1388.5,634.3 1387.0,641.2"/>
<ellipse class="k" cx="1384.4" cy="497.6" rx="25.2" ry="28.6" transform="rotate(-10.0 1384.4 497.6)"/>
<ellipse class="o" cx="1383.6" cy="497.4" rx="23.6" ry="27.0" transform="rotate(-10.0 1383.6 497.4)"/>
<path class="o" d="M1384,469.4 Q1393,474 1397.6,486 Q1401,498 1396.6,511 Q1392,521 1384.6,525.6"/>
<ellipse cx="1375.6" cy="495.4" rx="20.2" ry="23.6" transform="rotate(-8 1375.6 495.4)" fill="none" stroke="#000" stroke-width="1.5"/>
<ellipse class="o" cx="1376.0" cy="495.6" rx="18.6" ry="22.0" transform="rotate(-8.0 1376.0 495.6)"/>
<rect class="o" x="-1.3" y="-5.2" width="2.6" height="10.4" rx="1.3" transform="translate(1378.5 484.5) rotate(12)"/>
<rect class="o" x="-2.7" y="-1.3" width="5.4" height="2.6" rx="1.1" transform="translate(1372.8 459.9) rotate(-25)"/>
<rect class="o" x="-2.7" y="-1.3" width="5.4" height="2.6" rx="1.1" transform="translate(1380.0 457.2) rotate(-9)"/>
<rect class="o" x="-2.7" y="-1.3" width="5.4" height="2.6" rx="1.1" transform="translate(1387.5 456.8) rotate(3)"/>
<rect class="o" x="-2.7" y="-1.3" width="5.4" height="2.6" rx="1.1" transform="translate(1394.6 458.6) rotate(16)"/>
<rect class="o" x="-2.7" y="-1.3" width="5.4" height="2.6" rx="1.1" transform="translate(1402.0 462.3) rotate(30)"/>
<rect class="o" x="-2.7" y="-1.3" width="5.4" height="2.6" rx="1.1" transform="translate(1408.9 467.6) rotate(42)"/>
<rect class="o" x="-2.7" y="-1.3" width="5.4" height="2.6" rx="1.1" transform="translate(1414.9 474.3) rotate(55)"/>
<ellipse class="k" cx="1359.0" cy="547.0" rx="4.8" ry="5.8" transform="rotate(12.0 1359.0 547.0)"/>
<ellipse class="o" cx="1359.5" cy="547.2" rx="3.6" ry="4.6" transform="rotate(12.0 1359.5 547.2)"/>
<ellipse class="k" cx="1379.7" cy="554.5" rx="4.8" ry="5.8" transform="rotate(12.0 1379.7 554.5)"/>
<ellipse class="o" cx="1380.2" cy="554.7" rx="3.6" ry="4.6" transform="rotate(12.0 1380.2 554.7)"/>
<ellipse class="k" cx="1343.7" cy="565.0" rx="4.8" ry="5.8" transform="rotate(12.0 1343.7 565.0)"/>
<ellipse class="o" cx="1344.2" cy="565.2" rx="3.6" ry="4.6" transform="rotate(12.0 1344.2 565.2)"/>
<ellipse class="k" cx="1362.8" cy="572.2" rx="4.8" ry="5.8" transform="rotate(12.0 1362.8 572.2)"/>
<ellipse class="o" cx="1363.3" cy="572.4" rx="3.6" ry="4.6" transform="rotate(12.0 1363.3 572.4)"/>
<ellipse class="k" cx="1385.2" cy="579.8" rx="4.8" ry="5.8" transform="rotate(12.0 1385.2 579.8)"/>
<ellipse class="o" cx="1385.7" cy="580.0" rx="3.6" ry="4.6" transform="rotate(12.0 1385.7 580.0)"/>
<rect class="o" x="-3" y="-11" width="6" height="22" transform="translate(1415 564) rotate(12)"/>
<rect class="f" x="-1.6" y="-9.4" width="3.2" height="18.8" transform="translate(1415 564) rotate(12)"/>
<path class="o" d="M1350.5,505.5 C1348.8,506.1 1343.4,508.0 1340.0,509.4 C1336.6,510.8 1333.0,512.2 1330.0,514.0 C1327.0,515.8 1324.5,517.8 1322.0,520.0 C1319.5,522.2 1317.0,524.7 1315.0,527.0 C1313.0,529.3 1311.3,532.0 1310.0,534.0 C1308.7,536.0 1308.3,536.5 1307.0,539.0 C1305.7,541.5 1303.5,545.8 1302.0,549.0 C1300.5,552.2 1299.2,555.0 1298.0,558.0 C1296.8,561.0 1295.5,564.2 1294.6,567.0 C1293.7,569.8 1292.9,572.7 1292.5,575.0 C1292.1,577.3 1292.3,579.2 1292.4,581.0 C1292.5,582.8 1292.6,584.2 1293.0,586.0 C1293.4,587.8 1294.2,590.2 1295.0,592.0 C1295.8,593.8 1296.8,595.2 1298.0,597.0 C1299.2,598.8 1300.5,601.2 1302.0,603.0 C1303.5,604.8 1305.3,606.4 1307.0,608.0 C1308.7,609.6 1310.3,611.0 1312.0,612.4 C1313.7,613.8 1316.2,615.7 1317.0,616.4"/>
<path class="o" d="M1307.0,539.0 C1306.8,539.8 1305.8,542.5 1305.6,544.0 C1305.4,545.5 1305.7,546.3 1306.0,548.0 C1306.3,549.7 1306.9,552.0 1307.6,554.0 C1308.3,556.0 1309.0,558.2 1310.0,560.0 C1311.0,561.8 1312.3,563.3 1313.6,565.0 C1314.9,566.7 1316.4,568.5 1318.0,570.0 C1319.6,571.5 1321.3,572.8 1323.0,574.0 C1324.7,575.2 1327.2,576.9 1328.0,577.5"/>
<path class="k" d="M1349.0,511.0 C1347.3,511.7 1342.2,513.7 1339.0,515.4 C1335.8,517.1 1332.4,519.2 1330.0,521.0 C1327.6,522.8 1326.3,524.2 1324.6,526.0 C1322.9,527.8 1321.3,530.0 1320.0,532.0 C1318.7,534.0 1317.8,536.0 1317.0,538.0 C1316.2,540.0 1315.7,542.0 1315.5,544.0 C1315.3,546.0 1315.6,548.0 1316.0,550.0 C1316.4,552.0 1317.2,554.2 1318.0,556.0 C1318.8,557.8 1319.6,559.1 1320.6,560.6 C1321.6,562.1 1322.9,563.7 1324.0,565.0 C1325.1,566.3 1326.0,567.5 1327.0,568.6 C1328.0,569.7 1329.5,571.0 1330.0,571.5"/>
<path class="o" d="M1344.5,523.5 C1343.6,524.2 1340.8,526.4 1339.0,528.0 C1337.2,529.6 1335.3,531.2 1334.0,533.0 C1332.7,534.8 1331.8,536.8 1331.0,538.6 C1330.2,540.4 1329.3,542.3 1329.0,544.0 C1328.7,545.7 1328.8,547.5 1329.0,549.0 C1329.2,550.5 1329.6,551.7 1330.0,553.0 C1330.4,554.3 1330.9,555.8 1331.4,557.0 C1331.9,558.2 1332.7,559.5 1333.0,560.0"/>
<path class="o" d="M1317.0,616.4 C1319.2,617.8 1324.5,622.1 1330.0,625.0 C1335.5,627.9 1343.3,631.2 1350.0,633.5 C1356.7,635.8 1363.8,637.7 1370.0,639.0 C1376.2,640.3 1383.6,640.9 1387.0,641.4 C1390.4,641.9 1389.7,641.7 1390.2,641.8"/>
<path class="k" d="M1390.2,642.0 C1393.5,642.5 1403.4,644.2 1410.0,645.0 C1416.6,645.8 1424.2,646.2 1430.0,646.5 C1435.8,646.8 1438.3,646.9 1445.0,646.5 C1451.7,646.1 1461.7,645.1 1470.0,644.0 C1478.3,642.9 1486.7,641.8 1495.0,640.0 C1503.3,638.2 1512.5,635.7 1520.0,633.0 C1527.5,630.3 1534.2,627.3 1540.0,624.0 C1545.8,620.7 1550.8,617.0 1555.0,613.0 C1559.2,609.0 1562.8,603.8 1565.0,600.0 C1567.2,596.2 1567.8,592.5 1568.5,590.0 C1569.2,587.5 1568.9,585.8 1569.0,585.0"/>
<path class="o" d="M1556.5,550.0 C1557.4,551.7 1560.4,556.3 1562.0,560.0 C1563.6,563.7 1564.9,567.8 1566.0,572.0 C1567.1,576.2 1568.0,582.0 1568.5,585.0 C1569.0,588.0 1568.9,589.2 1569.0,590.0"/>
<path class="o" d="M1437.0,494.8 C1440.8,495.2 1452.8,496.0 1460.0,497.0 C1467.2,498.0 1473.3,499.4 1480.0,501.0 C1486.7,502.6 1493.3,504.3 1500.0,506.5 C1506.7,508.7 1514.2,511.4 1520.0,514.0 C1525.8,516.6 1530.7,519.3 1535.0,522.0 C1539.3,524.7 1543.0,527.0 1546.0,530.0 C1549.0,533.0 1551.2,536.7 1553.0,540.0 C1554.8,543.3 1555.9,547.0 1556.5,550.0 C1557.1,553.0 1556.8,555.3 1556.4,558.0 C1556.0,560.7 1555.1,563.5 1554.0,566.0 C1552.9,568.5 1552.3,570.2 1550.0,573.0 C1547.7,575.8 1543.3,580.4 1540.0,583.0 C1536.7,585.6 1533.3,586.9 1530.0,588.6 C1526.7,590.3 1525.0,591.3 1520.0,593.0 C1515.0,594.7 1506.7,597.3 1500.0,599.0 C1493.3,600.7 1486.7,601.9 1480.0,603.0 C1473.3,604.1 1466.7,604.9 1460.0,605.5 C1453.3,606.1 1446.7,606.5 1440.0,606.5 C1433.3,606.5 1426.5,606.0 1420.0,605.5 C1413.5,605.0 1404.2,603.8 1401.0,603.5"/>
<path class="k" d="M1436.5,499.0 C1440.4,499.4 1452.8,500.3 1460.0,501.5 C1467.2,502.7 1473.3,504.2 1480.0,506.0 C1486.7,507.8 1493.3,509.5 1500.0,512.0 C1506.7,514.5 1514.2,518.0 1520.0,521.0 C1525.8,524.0 1531.0,526.8 1535.0,530.0 C1539.0,533.2 1541.8,536.7 1544.0,540.0 C1546.2,543.3 1547.3,547.0 1548.0,550.0 C1548.7,553.0 1548.5,555.2 1548.0,558.0 C1547.5,560.8 1546.7,564.0 1545.0,567.0 C1543.3,570.0 1541.3,573.0 1538.0,576.0 C1534.7,579.0 1530.2,582.2 1525.0,585.0 C1519.8,587.8 1512.8,590.9 1507.0,593.0 C1501.2,595.1 1496.2,596.2 1490.0,597.5 C1483.8,598.8 1476.7,600.2 1470.0,601.0 C1463.3,601.8 1458.3,602.4 1450.0,602.5 C1441.7,602.6 1428.3,601.8 1420.0,601.6 C1411.7,601.5 1403.3,601.6 1400.0,601.6"/>
<path class="o" d="M1435.0,505.0 C1439.2,505.7 1452.5,507.4 1460.0,509.0 C1467.5,510.6 1473.3,512.2 1480.0,514.5 C1486.7,516.8 1494.2,519.9 1500.0,522.5 C1505.8,525.1 1510.3,527.1 1515.0,530.0 C1519.7,532.9 1524.8,536.7 1528.0,540.0 C1531.2,543.3 1533.0,547.0 1534.0,550.0 C1535.0,553.0 1534.7,555.2 1534.0,558.0 C1533.3,560.8 1532.3,563.8 1530.0,567.0 C1527.7,570.2 1523.3,574.3 1520.0,577.0 C1516.7,579.7 1515.0,580.8 1510.0,583.0 C1505.0,585.2 1496.7,588.1 1490.0,590.0 C1483.3,591.9 1476.7,593.4 1470.0,594.5 C1463.3,595.6 1455.0,596.1 1450.0,596.5 C1445.0,596.9 1445.0,597.1 1440.0,597.0 C1435.0,596.9 1424.5,595.9 1420.0,595.6 C1415.5,595.3 1414.2,595.1 1413.0,595.0"/>
<path class="k" d="M1428.5,536.0 C1432.1,536.3 1443.1,537.0 1450.0,538.0 C1456.9,539.0 1463.3,540.2 1470.0,542.0 C1476.7,543.8 1484.2,546.5 1490.0,549.0 C1495.8,551.5 1501.0,554.2 1505.0,557.0 C1509.0,559.8 1511.8,562.7 1514.0,566.0 C1516.2,569.3 1517.8,575.2 1518.5,577.0"/>
<path class="o" d="M1426.5,545.5 C1430.4,545.9 1442.8,546.8 1450.0,548.0 C1457.2,549.2 1463.3,550.5 1470.0,552.5 C1476.7,554.5 1484.2,557.4 1490.0,560.0 C1495.8,562.6 1501.2,565.5 1505.0,568.0 C1508.8,570.5 1511.2,573.1 1513.0,575.0 C1514.8,576.9 1515.5,578.8 1516.0,579.5"/>
<path class="o" d="M1400,601.4 L1413,595"/>
</g>
</svg>
</body>
</html>
